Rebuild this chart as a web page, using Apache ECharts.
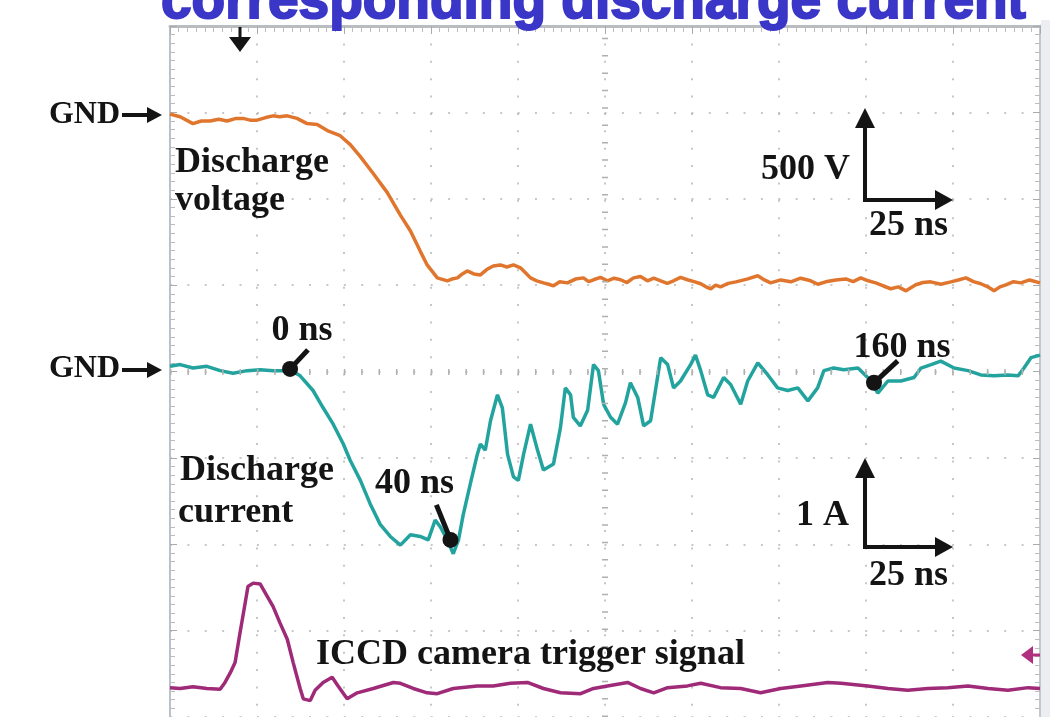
<!DOCTYPE html>
<html><head><meta charset="utf-8">
<script src="https://cdn.jsdelivr.net/npm/echarts@6/dist/echarts.min.js"></script>
<style>html,body{margin:0;padding:0;background:#fff;overflow:hidden}#c{width:1061px;height:717px}</style>
</head><body><div id="c"></div>
<script>
// ---- DATA (time in ns from left edge of screen, 25 ns/div) ----
// Channel 1: discharge voltage, volts relative to GND (500 V/div)
const voltageTime = [0,2.9,6.6,9,11.5,14,16.4,19,21,23,25,27.5,29.6,31.5,33.7,36.5,39.4,42.3,45.2,48.9,51.8,54.7,58.4,62.4,66.2,69.1,71.9,73.9,76.8,79.7,81,82.6,84,85.4,87.3,89.2,91,92.9,94.9,96.8,98.7,100.7,102,103.6,105.4,107.3,108.8,110.2,112,114.2,116.5,118.8,120.3,121.7,123.7,125.7,127.6,129.5,131.3,133.2,135.2,137.2,139,141.0,142.9,144.7,146.7,148.7,150.6,152.5,154,155.4,156.8,158.2,160.4,162.6,165.8,168.9,170.8,172.6,175.5,178.4,181.2,184.1,186.2,188.4,191.3,194.2,196.3,198.5,200.6,202.8,205,207.1,209.3,211.5,212.9,214.3,216.4,218.6,221.5,224.4,226.5,228.7,230.9,233.0,235,236.8,238.5,240.2,242.4,244.5,247,250];
const voltageVolts = [10,-5,-45,-30,-30,-20,-30,-15,-15,-25,-25,-10,0,-5,0,-15,-45,-50,-85,-115,-167,-236,-334,-443,-575,-667,-783,-863,-938,-955,-945,-938,-915,-898,-915,-921,-890,-869,-863,-875,-863,-880,-905,-938,-955,-967,-975,-984,-960,-967,-945,-938,-960,-949,-935,-955,-940,-949,-965,-938,-930,-955,-940,-955,-970,-955,-935,-949,-960,-972,-990,-1001,-980,-990,-970,-961,-945,-926,-950,-967,-950,-961,-940,-955,-975,-961,-950,-944,-960,-938,-955,-967,-985,-1001,-990,-1013,-995,-978,-965,-961,-975,-961,-950,-938,-960,-972,-990,-1013,-990,-978,-960,-967,-950,-967];
// Channel 2: discharge current, amperes relative to GND (1 A/div)
const currentTime = [0,2.9,6.6,10.6,14.4,18.1,22.2,25.9,29.6,33.7,34.5,37.4,41.1,44.0,46.9,49.8,51.8,54.7,57.5,60.4,63.3,66.2,69.1,71.9,74.2,76.2,77.7,79.7,81.4,82.9,84.3,86.3,88.3,89.2,90.6,92.1,94.1,95.5,97.0,98.7,100.1,101.6,103.6,105.6,107.3,110.2,112.2,113.6,115.1,115.9,117.9,120.0,121.7,123.1,124.6,126.6,128.6,130.9,132.3,134.4,136.1,138.1,141.0,143.0,144.7,146.7,149.6,151.0,152.5,154.5,156.2,159.1,161.1,164.0,166.0,168.9,171.8,174.6,177.5,180.4,183.3,186.1,187.9,190.7,193.6,197.7,200.5,203.4,206.3,210.0,213.8,215.8,218.7,221.5,225.3,229.3,233.0,236.8,240.8,243.7,245.4,247.4,250];
const currentAmps = [0.03,0.05,0.01,0.03,-0.02,-0.05,-0.02,-0.01,-0.02,-0.02,-0.01,-0.08,-0.25,-0.45,-0.64,-0.87,-1.06,-1.29,-1.56,-1.80,-1.94,-2.04,-1.92,-1.94,-1.98,-1.75,-1.83,-1.98,-2.14,-1.98,-1.68,-1.33,-0.99,-0.87,-0.94,-0.60,-0.30,-0.45,-0.99,-1.25,-1.29,-0.99,-0.64,-0.94,-1.17,-1.10,-0.68,-0.22,-0.30,-0.56,-0.66,-0.48,0.05,-0.02,-0.41,-0.56,-0.64,-0.39,-0.16,-0.33,-0.66,-0.60,0.13,0.05,-0.22,-0.14,0.05,0.16,-0.02,-0.30,-0.33,-0.10,-0.18,-0.41,-0.14,0.07,-0.07,-0.22,-0.25,-0.22,-0.37,-0.22,-0.02,0.01,-0.01,0.01,-0.10,-0.28,-0.14,-0.14,-0.10,0.01,0.05,0.09,0.01,-0.02,-0.07,-0.08,-0.07,-0.08,0.01,0.13,0.16];
// Channel 3: ICCD camera trigger signal, divisions relative to its baseline
const triggerTime = [0,2.9,6.6,10.6,14.4,15.8,17.3,18.7,20.1,21.6,22.4,23.9,25.9,27.9,29.6,31.6,33.7,35.4,37.4,38.3,40.3,41.7,44.0,46.6,48.3,50.9,53.8,58.4,64.2,66.2,69.9,73.9,76.8,81.4,88.3,92.9,97.8,102.7,107.3,112.2,118.0,121.7,125.7,131.5,135.2,139.0,143.0,148.7,152.5,158.2,164.0,169.7,175.5,181.3,189.0,192.8,200.5,206.3,212.0,217.8,223.5,229.3,235.1,240.8,246.6,250];
const triggerDiv = [0,-0.01,0.01,-0.01,-0.02,0.06,0.17,0.29,0.63,0.98,1.17,1.21,1.20,1.06,0.94,0.75,0.56,0.29,-0.01,-0.13,-0.15,-0.03,0.06,0.12,0.02,-0.13,-0.06,-0.01,0.06,0.05,-0.01,-0.06,-0.07,-0.01,0.02,0.02,0.05,0.06,-0.01,-0.06,-0.07,-0.01,0.02,0.06,-0.01,-0.06,0,0.02,0.05,0,-0.01,-0.06,-0.01,0.02,0.06,0.05,0.02,-0.01,-0.03,-0.01,0,0.02,-0.01,-0.03,0,-0.01];
// Time markers on the current trace
const markerTime = [34.5, 80.6, 202.3];
const markerAmps = [0, -1.98, -0.16];
const markerLabels = ['0 ns', '40 ns', '160 ns'];

// ---- channel positions (divisions from screen centre) ----
const VOLT_OFF = 2.96, VOLT_SCALE = 500;
const CUR_OFF = 0.03, CUR_SCALE = 1;
const TRIG_OFF = -3.66;

const pairs = (ts, ys) => ts.map((t, i) => [t, ys[i]]);
const vData = pairs(voltageTime, voltageVolts.map(v => VOLT_OFF + v / VOLT_SCALE));
const iData = pairs(currentTime, currentAmps.map(a => CUR_OFF + a / CUR_SCALE));
const tData = pairs(triggerTime, triggerDiv.map(d => TRIG_OFF + d));
const mData = pairs(markerTime, markerAmps.map(a => CUR_OFF + a / CUR_SCALE));

const labelOffsets = [[12, -38], [-36, -56], [28, -35]];
const tailStyle = [
  {rot: -43, len: 26, off: [9, -9.5]},
  {rot: 22, len: 38, off: [-7, -17.5]},
  {rot: -47, len: 32, off: [12, -11]}
];

const serif = '"Liberation Serif", "Times New Roman", serif';
const ink = '#141414';
function txt(text, x, y, align, size) {
  return {type: 'text', z: 20, style: {text: text, x: x, y: y, textAlign: align || 'left', textVerticalAlign: 'middle',
    font: 'bold ' + (size || 36) + 'px ' + serif, fill: ink}};
}
function line(x1, y1, x2, y2, w, c) {
  return {type: 'line', z: 20, shape: {x1: x1, y1: y1, x2: x2, y2: y2}, style: {stroke: c || ink, lineWidth: w || 4}};
}
function poly(pts, c) {
  return {type: 'polygon', z: 20, shape: {points: pts}, style: {fill: c || ink}};
}

const chart = echarts.init(document.getElementById('c'), null, {renderer: 'canvas'});
const dotted = {color: '#b5b5b5', width: 1.5, type: [2, 15.38]};
chart.setOption({
  animation: false,
  backgroundColor: '#ffffff',
  grid: {left: 170, top: 26, width: 870, height: 696, containLabel: false},
  xAxis: [{
    type: 'value', min: 0, max: 250, interval: 25, position: 'top',
    axisLine: {show: true, onZero: false, lineStyle: {color: '#b9bdc2', width: 3}},
    axisTick: {show: true, inside: true, length: 8, lineStyle: {color: '#aaaaaa'}},
    minorTick: {show: true, splitNumber: 10, length: 6, lineStyle: {color: '#bdbdbd'}},
    axisLabel: {show: false},
    splitLine: {show: true, lineStyle: dotted}
  }],
  yAxis: [{
    type: 'value', min: -4, max: 4, interval: 1, position: 'left',
    axisLine: {show: true, onZero: false, lineStyle: {color: '#b9c2cc', width: 2}},
    axisTick: {show: true, inside: true, length: 7, lineStyle: {color: '#aaaaaa'}},
    minorTick: {show: true, splitNumber: 10, length: 5, lineStyle: {color: '#bdbdbd'}},
    axisLabel: {show: false},
    splitLine: {show: true, lineStyle: dotted}
  }, {
    type: 'value', min: -4, max: 4, interval: 1, position: 'right',
    axisLine: {show: true, onZero: false, lineStyle: {color: '#c4c8cd', width: 3}},
    axisTick: {show: true, inside: true, length: 7, lineStyle: {color: '#aaaaaa'}},
    minorTick: {show: true, splitNumber: 10, length: 5, lineStyle: {color: '#bdbdbd'}},
    axisLabel: {show: false},
    splitLine: {show: false}
  }],
  series: [
    {
      type: 'line', name: 'centre', data: [], silent: true,
      markLine: {silent: true, symbol: 'none', label: {show: false},
        lineStyle: {color: '#b0b0b0', width: 6, type: [1.5, 15.88]},
        data: [{xAxis: 125}, {yAxis: 0}]}
    },
    {type: 'line', name: 'Discharge voltage', data: vData, showSymbol: false, z: 3,
      lineStyle: {color: '#e0762e', width: 3.5}},
    {type: 'line', name: 'Discharge current', data: iData, showSymbol: false, z: 3,
      lineStyle: {color: '#23a39e', width: 3.5}},
    {type: 'line', name: 'ICCD camera trigger signal', data: tData, showSymbol: false, z: 3,
      lineStyle: {color: '#9e2a78', width: 3.5}},
    {type: 'scatter', name: 'tails', z: 5, silent: true,
      data: mData.map((p, i) => ({value: p, symbol: 'rect', symbolSize: [5, tailStyle[i].len],
        symbolRotate: tailStyle[i].rot, symbolOffset: tailStyle[i].off})),
      itemStyle: {color: ink, opacity: 1}},
    {type: 'scatter', name: 'markers', z: 6, silent: true, symbol: 'circle', symbolSize: 16,
      itemStyle: {color: ink, opacity: 1},
      data: mData.map((p, i) => ({value: p, name: markerLabels[i],
        label: {show: true, position: 'inside', offset: labelOffsets[i], formatter: '{b}',
          color: ink, fontFamily: serif, fontWeight: 'bold', fontSize: 36}}))}
  ],
  graphic: [
    {type: 'rect', z: 1, shape: {x: 1041, y: 20, width: 9, height: 700}, style: {fill: '#eceef1'}},
    {type: 'text', z: 30, style: {text: 'corresponding discharge current', x: 161, y: 3,
      textAlign: 'left', textVerticalAlign: 'middle', font: 'bold 55px "Liberation Sans", Arial, sans-serif',
      fill: '#3a36c8', stroke: '#3a36c8', lineWidth: 2}},
    // GND markers
    txt('GND', 120, 115, 'right', 32),
    line(122, 115, 150, 115, 4), poly([[147, 107], [162, 115], [147, 123]]),
    txt('GND', 120, 369, 'right', 32),
    line(122, 370, 150, 370, 4), poly([[147, 362], [162, 370], [147, 378]]),
    // trigger position arrow
    line(240, 27, 240, 40, 3), poly([[229, 37], [251, 37], [240, 52]]),
    // trace names
    txt('Discharge', 175, 163), txt('voltage', 175, 201),
    txt('Discharge', 180, 471), txt('current', 178, 513),
    txt('ICCD camera trigger signal', 316, 655),
    // scale bars
    txt('500 V', 850, 170, 'right'), txt('25 ns', 869, 226),
    line(865, 125, 865, 202, 4), poly([[855, 128], [875, 128], [865, 108]]),
    line(863, 200, 938, 200, 4), poly([[935, 190], [935, 210], [953, 200]]),
    txt('1 A', 849, 516, 'right'), txt('25 ns', 869, 576),
    line(865, 475, 865, 549, 4), poly([[855, 478], [875, 478], [865, 458]]),
    line(863, 547, 938, 547, 4), poly([[935, 537], [935, 557], [953, 547]]),
    // trigger level marker
    line(1030, 655, 1040, 655, 3, '#b0307f'), poly([[1021, 655], [1033, 646], [1033, 664]], '#b0307f')
  ]
});
</script></body></html>
